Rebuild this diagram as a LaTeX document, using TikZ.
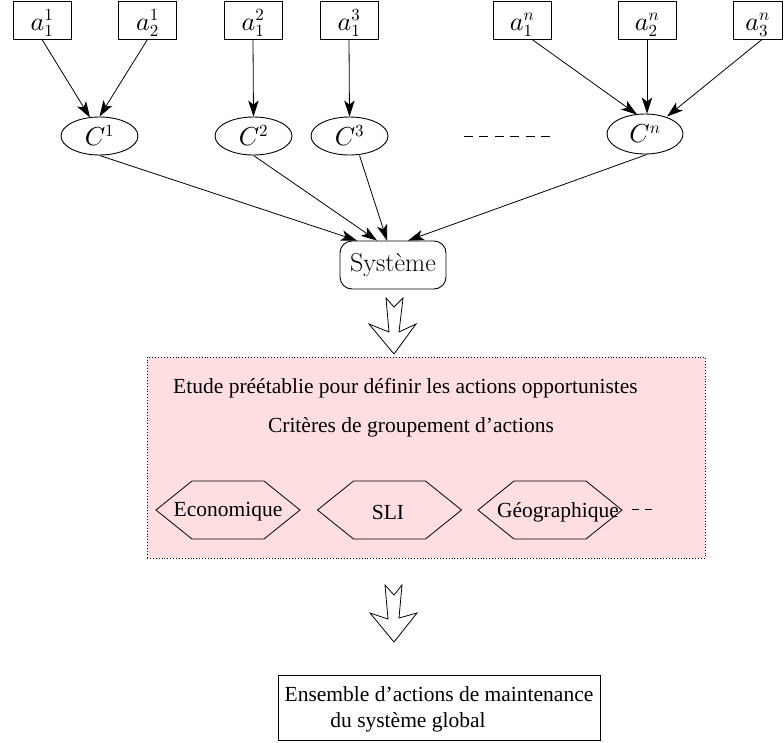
\documentclass[tikz,border=0pt]{standalone}
\usepackage{fontspec}
\newfontfamily\tms{Liberation Serif}
\DeclareFontShape{OML}{cmm}{m}{it}{<->cmmi10}{}
\DeclareFontShape{OT1}{cmr}{m}{n}{<->cmr10}{}
\DeclareMathSizes{26}{26}{17.5}{13}
\newcommand\scr[1]{\hbox{\fontsize{17}{17}\selectfont$#1$}}
\usetikzlibrary{arrows.meta,calc,shapes.geometric}
\definecolor{pinkbg}{RGB}{255,222,225}
\tikzset{
  mathfont/.style={font=\fontsize{26}{30}\selectfont},
  txtfont/.style={font=\tms\fontsize{21.5}{26}\selectfont},
  abox/.style={draw, line width=0.9pt, rectangle, inner sep=0pt, minimum width=58pt, minimum height=38pt, text height=29pt, text depth=9pt, mathfont},
  cell/.style={draw, line width=0.9pt, ellipse, inner sep=0pt, minimum width=77pt, minimum height=38pt, mathfont},
  arr/.style={line width=0.8pt, -{Stealth[length=16pt,width=10.5pt,inset=4pt]}},
  hollow/.style={draw, line width=0.8pt, fill=white, line join=miter},
  hex/.style={draw, line width=0.8pt},
}
\begin{document}
\begin{tikzpicture}[x=1pt,y=-1pt]
\useasboundingbox (0,0) rectangle (784,742);
% top boxes
\node[abox] (a11) at (42,20) {$a_{\scr{1}}^{\scr{1}}$};
\node[abox] (a21) at (147.5,20) {$a_{\scr{2}}^{\scr{1}}$};
\node[abox] (a12) at (253,20) {$a_{\scr{1}}^{\scr{2}}$};
\node[abox] (a13) at (349,20) {$a_{\scr{1}}^{\scr{3}}$};
\node[abox] (an1) at (522,20) {$a_{\scr{1}}^{\scr{n}}$};
\node[abox] (an2) at (647,20) {$a_{\scr{2}}^{\scr{n}}$};
\node[abox, minimum width=49pt] (an3) at (757.5,20) {$a_{\scr{3}}^{\scr{n}}$};
% ellipses
\node[cell] (c1) at (99.5,136) {$C^{\scr{1}}$};
\node[cell] (c2) at (253.5,136) {$C^{\scr{2}}$};
\node[cell] (c3) at (349.5,136) {$C^{\scr{3}}$};
\node[cell, minimum width=76pt, minimum height=40pt] (cn) at (645,134) {$C^{\scr{n}}$};
\coordinate (dl) at (464,136);
\coordinate (dr) at (550,136);
\draw[line width=0.8pt, dash pattern=on 9pt off 6.4pt] (dl) -- (dr);
% arrows a -> C
\draw[arr] (a11.south) -- ($(c1.north)+(-9.5,1)$);
\draw[arr] (a21.south) -- (c1.north);
\draw[arr] (a12.south) -- (c2.north);
\draw[arr] (a13.south) -- (c3.north);
\draw[arr] ($(an1.south)+(10,0)$) -- ($(cn.north)+(-8,1)$);
\draw[arr] (an2.south) -- (an2.south |- cn.north);
\draw[arr] ($(an3.south)+(4.5,0)$) -- ($(cn.north)+(22,3)$);
% Systeme
\node[draw, line width=0.9pt, rounded corners=12pt, minimum width=106pt, minimum height=48pt, inner sep=0pt, mathfont] (sys) at (393,265) {Système};
\draw[arr] (c1.south) -- ($(sys.north)+(-36,0)$);
\draw[arr] (c2.south) -- ($(sys.north)+(-16,0)$);
\draw[arr] ($(c3.south)+(10,0)$) -- ($(sys.north)+(-6,0)$);
\draw[arr] ($(cn.south)+(2,0)$) -- ($(sys.north)+(15,0)$);
% hollow arrow 1
\draw[hollow] (386,298) -- (394,307) -- (403,298) -- (399,332) -- (416,324) -- (394,354) -- (369,324) -- (389,332) -- cycle;
% pink box
\node[draw, dotted, line width=0.9pt, fill=pinkbg, minimum width=558pt, minimum height=201pt, inner sep=0pt] (box) at (426,457.5) {};
\node[txtfont] (t1) at (405.5,388) {Etude préétablie pour définir les actions opportunistes};
\node[txtfont] (t2) at (411,427) {Critères de groupement d’actions};
% hexagons
\coordinate (h1) at (228,510);
\coordinate (h2) at (389.5,510);
\coordinate (h3) at (550,510);
\foreach \h in {h1,h2,h3}
  \draw[hex] ($(\h)+(-72,0)$) -- ++(36,-29) -- ++(72,0) -- ++(36,29) -- ++(-36,29) -- ++(-72,0) -- cycle;
\node[txtfont] (eco) at (228,512) {Economique};
\node[txtfont] (sli) at (388,512) {SLI};
\node[txtfont] (geo) at (558,512) {Géographique};
\coordinate (gl) at (632,509);
\coordinate (gr) at (653,509);
\draw[line width=0.8pt, dash pattern=on 7pt off 6pt] (gl) -- (gr);
% hollow arrow 2
\draw[hollow] (385,585) -- (394,595) -- (402,585) -- (399,618) -- (417,613) -- (394,642) -- (370,613) -- (388,619) -- cycle;
% final box
\node[draw, line width=0.9pt, minimum width=322pt, minimum height=65pt, inner sep=0pt] (fin) at (439,707.5) {};
\node[txtfont] (f1) at (439,694) {Ensemble d’actions de maintenance};
\node[txtfont] (f2) at (408,722) {du système global};
\end{tikzpicture}
\end{document}
